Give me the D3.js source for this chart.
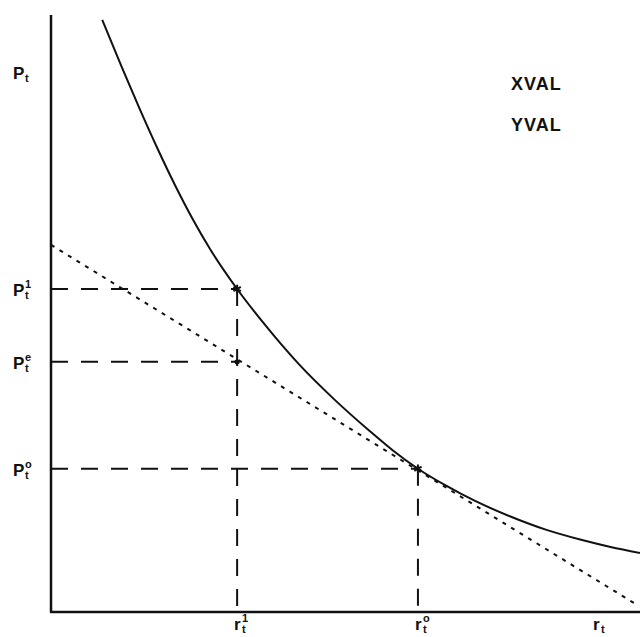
<!DOCTYPE html>
<html>
<head>
<meta charset="utf-8">
<script src="https://cdn.jsdelivr.net/npm/d3@7"></script>
<style>
body{margin:0;background:#fff}
svg{display:block}
text{font-family:"Liberation Sans",Arial,sans-serif;font-weight:bold;fill:#111}
</style>
</head>
<body>
<svg id="chart" width="640" height="637"></svg>
<script>
// curve (r, P)
var curveR = [8.7, 12, 15, 18, 21, 24, 27, 31.6, 36, 42, 48, 54, 58, 62.3, 67, 72, 78, 84, 90, 95, 100];
var curveP = [99.2, 91.3, 84.4, 77.8, 71.6, 65.9, 60.8, 54.1, 48.5, 41.6, 35.7, 30.4, 27.1, 24.0, 21.2, 18.6, 16.0, 13.8, 12.1, 10.9, 9.9];
// tangent (dotted)
var tangentR = [0, 99.3];
var tangentP = [61.5, 1.3];
// guide values
var rVals = [31.6, 62.3];          // r1, r0
var rNames = ["1", "o"];
var pVals = [54.1, 41.9, 24.0];    // P1, Pe, P0
var pNames = ["1", "e", "o"];
var pEnds = [31.6, 31.6, 62.3];
var notes = ["XVAL", "YVAL"];

var svg = d3.select("#chart");
var x = d3.scaleLinear().domain([0, 100]).range([51, 640]);
var y = d3.scaleLinear().domain([0, 100]).range([612, 15]);

var pts = curveR.map(function(r, i){ return [r, curveP[i]]; });
var line = d3.line()
	.x(function(d){ return x(d[0]); })
	.y(function(d){ return y(d[1]); });

// dashed guides
pVals.forEach(function(p, i){
	svg.append("line")
		.attr("x1", x(0)).attr("x2", x(pEnds[i]))
		.attr("y1", y(p)).attr("y2", y(p))
		.attr("stroke", "#111").attr("stroke-width", 2)
		.attr("stroke-dasharray", "17,13");
});
rVals.forEach(function(r, i){
	svg.append("line")
		.attr("x1", x(r)).attr("x2", x(r))
		.attr("y1", y(i == 0 ? pVals[0] : pVals[2])).attr("y2", y(0))
		.attr("stroke", "#111").attr("stroke-width", 2)
		.attr("stroke-dasharray", "17,13");
});

// tangent
svg.append("path")
	.attr("d", line.curve(d3.curveLinear)([[tangentR[0], tangentP[0]], [tangentR[1], tangentP[1]]]))
	.attr("fill", "none").attr("stroke", "#111").attr("stroke-width", 2)
	.attr("stroke-dasharray", "4,6");

// curve
svg.append("path")
	.attr("d", line.curve(d3.curveMonotoneX)(pts))
	.attr("fill", "none").attr("stroke", "#111").attr("stroke-width", 2);

// marks
var sym = d3.symbol().type(d3.symbolAsterisk);
[[rVals[0], pVals[0]], [rVals[1], pVals[2]], [rVals[0], pVals[1]]].forEach(function(d, i){
	svg.append("path")
		.attr("transform", "translate(" + x(d[0]) + "," + y(d[1]) + ")")
		.attr("d", sym.size(i < 2 ? 50 : 20)())
		.attr("fill", "none").attr("stroke", "#111").attr("stroke-width", 2);
});

// axes
svg.append("line").attr("x1", x(0)).attr("x2", x(0)).attr("y1", y(100)).attr("y2", y(0))
	.attr("stroke", "#111").attr("stroke-width", 2.5);
svg.append("line").attr("x1", x(0) - 1).attr("x2", x(100)).attr("y1", y(0)).attr("y2", y(0))
	.attr("stroke", "#111").attr("stroke-width", 2.5);

// labels
function label(px, py, main, sup, sub){
	svg.append("text").attr("x", px).attr("y", py).attr("font-size", 17).text(main);
	var bx = px + (main == "P" ? 12 : 8);
	if(sup) svg.append("text").attr("x", bx).attr("y", py - 8).attr("font-size", 11).text(sup);
	if(sub) svg.append("text").attr("x", bx).attr("y", py + 3).attr("font-size", 11).text(sub);
}
label(13, 79, "P", null, "t");
pVals.forEach(function(p, i){ label(13, y(p) + 7, "P", pNames[i], "t"); });
rVals.forEach(function(r, i){ label(x(r) - 3, 630, "r", rNames[i], "t"); });
label(593, 630, "r", null, "t");

notes.forEach(function(t, i){
	svg.append("text").attr("x", 511).attr("y", 90 + i * 41)
		.attr("font-size", 18).attr("letter-spacing", 1).text(t);
});
</script>
</body>
</html>
